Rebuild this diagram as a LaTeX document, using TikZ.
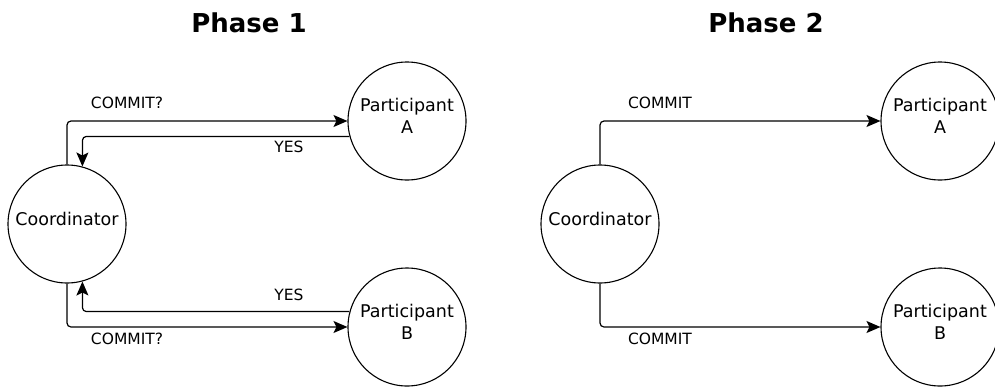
\documentclass[tikz,border=0pt]{standalone}
\usepackage{fontspec}
\setmainfont{DejaVu Sans}
\usetikzlibrary{positioning,arrows.meta}

\begin{document}
\begin{tikzpicture}[
      x=1pt, y=-1pt,
      party/.style={
        circle, draw=black, line width=1.1pt, fill=white, font=\fontsize{17.5}{22}\selectfont,
        minimum size=118pt, inner sep=0pt, align=center, text depth=10pt
      },
      msg/.style={font=\fontsize{15.5}{18}\selectfont, inner sep=0pt},
      phase/.style={font=\fontsize{26}{30}\selectfont\bfseries, inner sep=0pt},
      flow/.style={-{Stealth[length=14pt,width=12pt,inset=3pt]}, line width=1.2pt, rounded corners=4pt}
      ]

  \useasboundingbox (0,0) rectangle (995,386);

  % Titles
  \node[phase] (t1) at (249,23) {Phase 1};
  \node[phase] (t2) at (766,23) {Phase 2};

  % Define nodes (phase 1)
  \node[party]                                        (co)  at (67,224) {Coordinator};
  \node[party, on grid, above right=103pt and 340pt of co] (pa)  {Participant\\A};
  \node[party, on grid, below right=103pt and 340pt of co] (pb)  {Participant\\B};

  % Define nodes (phase 2)
  \node[party]                                         (co2) at (600,224) {Coordinator};
  \node[party, on grid, above right=103pt and 340pt of co2] (pa2) {Participant\\A};
  \node[party, on grid, below right=103pt and 340pt of co2] (pb2) {Participant\\B};

  % Connect the nodes
  \draw[flow] (co.north) |- (pa.west);
  \draw[flow] (pa.195) -| (co.75);
  \draw[flow] (pb.165) -| (co.-75);
  \draw[flow] (co.south) |- (pb.west);

  \draw[flow] (co2.north) |- (pa2.west);
  \draw[flow] (co2.south) |- (pb2.west);

  % Labels
  \node[msg] (c1) at (127,103) {COMMIT?};
  \node[msg] (y1) at (289,147) {YES};
  \node[msg] (y2) at (289,295) {YES};
  \node[msg] (c2) at (127,339) {COMMIT?};
  \node[msg] (c3) at (660,103) {COMMIT};
  \node[msg] (c4) at (660,339) {COMMIT};

\end{tikzpicture}
\end{document}
